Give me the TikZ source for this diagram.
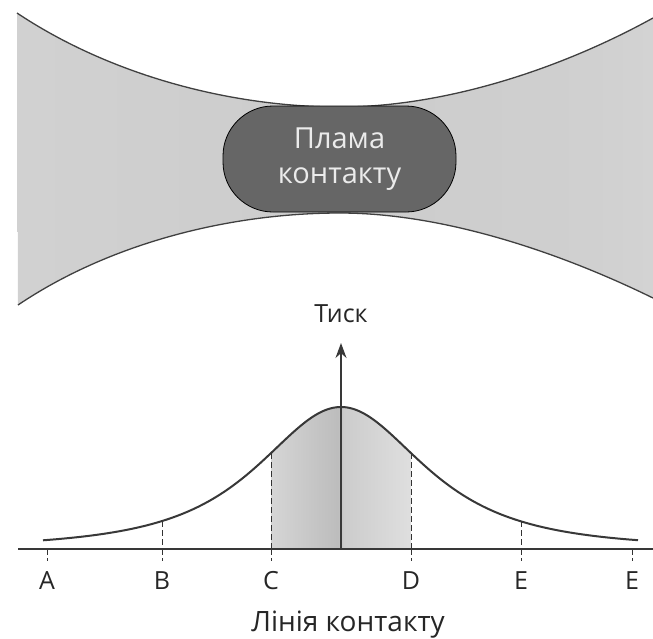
\documentclass[tikz,border=0pt]{standalone}
\usepackage{fontspec}
\setmainfont{Open Sans}
\usepackage{tikz}
\usetikzlibrary{positioning,arrows.meta,calc}

\pgfdeclarehorizontalshading{zone}{100bp}{color(0bp)=(white); color(4bp)=(gray!22); color(25bp)=(gray!36); color(50bp)=(gray!40); color(70bp)=(gray!37); color(88bp)=(gray!28); color(100bp)=(gray!10)}
\pgfdeclarehorizontalshading{peak}{100bp}{color(0bp)=(gray!12); color(40bp)=(gray!45); color(49bp)=(gray!52); color(51bp)=(gray!40); color(100bp)=(gray!10)}

\begin{document}
\begin{tikzpicture}[x=1pt, y=-1pt,
    edge/.style={draw=black!78, line width=2pt},
    body/.style={draw=black!75, line width=1.3pt},
    tick/.style={draw=black!80, line width=1pt, dash pattern=on 6pt off 3pt},
    letter/.style={font=\fontsize{25}{25}\selectfont, text=black!85, inner sep=0pt},
    patch/.style={draw=black, line width=0.8pt, fill=black!60, rounded corners=50pt,
        minimum width=233pt, minimum height=106pt, text=white!92!black, align=center,
        font=\fontsize{29}{35}\selectfont}]
    \useasboundingbox (0,0) rectangle (653,638);

    % the two bodies pressed together
    \shade[shading=zone]
        (17,13) .. controls (110,75) and (230,107) .. (340,107)
        .. controls (440,107) and (555,72) .. (653,18)
        -- (653,298)
        .. controls (555,250) and (440,213) .. (340,213)
        .. controls (230,213) and (110,243) .. (18,305) -- cycle;
    \draw[body] (17,13) .. controls (110,75) and (230,107) .. (340,107)
        .. controls (440,107) and (555,72) .. (653,18);
    \draw[body] (18,305) .. controls (110,243) and (230,213) .. (340,213)
        .. controls (440,213) and (555,250) .. (653,298);

    \node[patch] (patch) at (339.5,159) {Плама\\контакту};

    % pressure along the contact line
    \coordinate (o) at (341,549);
    \coordinate (tip) at (341,343);
    \coordinate (ax0) at (18,549);
    \coordinate (ax1) at (653,549);

    \foreach \n/\px/\lab in {A/47/A, B/162/B, C/271/C, D/411/D, E/521/E, F/632/E} {
        \coordinate (t\n) at (\px,549);
        \coordinate (b\n) at (\px,561);
        \node[letter, anchor=base] (l\n) at (\px,589) {\lab};
    }

    \shade[shading=peak] (tC)
        -- plot[domain=-70:70, samples=40] ({341+\x},{549-142*(1+(\x/128)*(\x/128))^(-1.5)})
        -- (tD) -- cycle;
    \draw[edge] plot[domain=-298:297, samples=120, smooth]
        ({341+\x},{549-142*(1+(\x/128)*(\x/128))^(-1.5)});

    \foreach \n/\px in {B/162, C/271, D/411, E/521}
        \draw[tick] (\px,{549-142*(1+((\px-341)/128)*((\px-341)/128))^(-1.5)}) -- (t\n);
    \foreach \n in {A, B, C, D, E, F}
        \draw[tick] (t\n) -- (b\n);

    \draw[edge, line width=2.4pt] (ax0) -- (ax1);
    \draw[edge, line width=1.6pt, -{Stealth[length=15pt, width=11pt]}] (o) -- (tip);

    \node[letter, font=\fontsize{25}{25}\selectfont, above=20pt of tip] (tisk) {Тиск};
    \node[letter, font=\fontsize{28}{28}\selectfont, anchor=base] (line) at (348,631) {Лінія контакту};
\end{tikzpicture}
\end{document}
